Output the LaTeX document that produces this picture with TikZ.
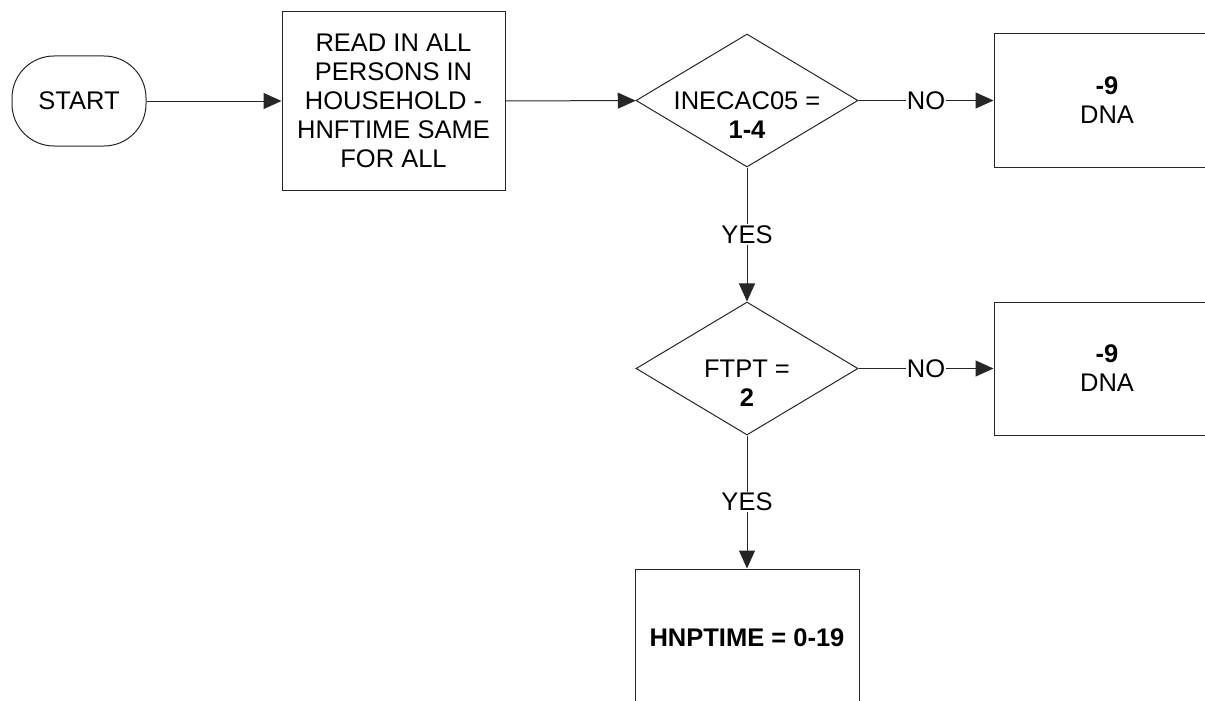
\documentclass[tikz,border=0pt]{standalone}
\usepackage{fontspec}
\setmainfont{Liberation Sans}
\usetikzlibrary{shapes.geometric,arrows.meta}
\begin{document}
\begin{tikzpicture}[x=1pt,y=-1pt,
  every node/.style={font=\fontsize{25.5}{29}\selectfont},
  box/.style={draw=black!85,line width=1pt,inner sep=0pt,align=center},
  dia/.style={draw=black!85,line width=1pt,diamond,minimum width=222pt,minimum height=133pt,inner sep=0pt},
  txt/.style={align=center,inner sep=0pt},
  arr/.style={draw=black!85,line width=1pt,-{Triangle[length=18pt,width=16pt]}},
  lab/.style={fill=white,inner sep=1pt}]
\useasboundingbox (0,0) rectangle (1205,701);
\clip (0,0) rectangle (1205,701);
\node[box,rounded corners=42pt,minimum width=134pt,minimum height=90pt] (start) at (79,101) {START};
\node[box,minimum width=223pt,minimum height=178pt] (read) at (393.5,101) {READ IN ALL\\PERSONS IN\\HOUSEHOLD -\\HNFTIME SAME\\FOR ALL};
\node[dia] (d1) at (747,100.5) {};
\node[txt] (d1t) at (747,115) {INECAC05 =\\\textbf{1-4}};
\node[box,minimum width=226pt,minimum height=133pt] (dna1) at (1107,100.5) {\textbf{-9}\\DNA};
\node[dia] (d2) at (747,368.5) {};
\node[txt] (d2t) at (747,383) {FTPT =\\\textbf{2}};
\node[box,minimum width=226pt,minimum height=133pt] (dna2) at (1107,368.5) {\textbf{-9}\\DNA};
\node[box,minimum width=224pt,minimum height=138pt] (hnp) at (747,638) {\textbf{HNPTIME = 0-19}};
\draw[arr] (start) -- (read);
\draw[arr] (read) -- (d1);
\draw[arr] (d1) -- node[lab]{NO} (dna1);
\draw[arr] (d1) -- node[lab]{YES} (d2);
\draw[arr] (d2) -- node[lab]{NO} (dna2);
\draw[arr] (d2) -- node[lab]{YES} (hnp);
\end{tikzpicture}
\end{document}
